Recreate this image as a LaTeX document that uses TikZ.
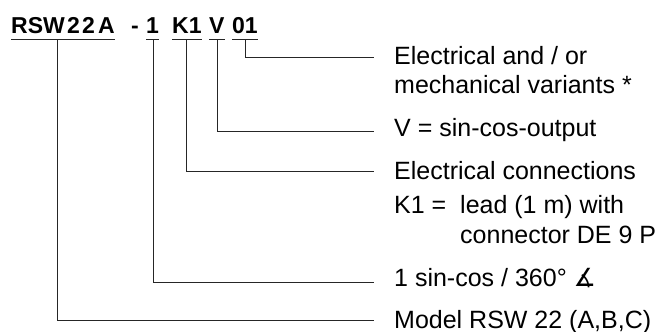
\documentclass[tikz,border=0pt]{standalone}
\usepackage{fontspec}
\setmainfont{Liberation Sans}
\newfontfamily\symfont{DejaVu Sans}
\begin{document}
\begin{tikzpicture}[x=1pt,y=-1pt,
  code/.style={inner sep=0pt,anchor=base west,font=\fontsize{23}{27}\selectfont\bfseries},
  lab/.style={inner sep=0pt,anchor=base west,font=\fontsize{25}{29.5}\selectfont},
  conn/.style={line width=0.9pt,draw=black!85},
  uline/.style={line width=0.9pt,draw=black!85}]
\useasboundingbox (0,0) rectangle (657,332);
% code pieces
\node[code] (trsw) at (11,33) {RSW};
\node[code] (t2a) at (67,33) {2};
\node[code] (t2b) at (82,33) {2};
\node[code] (ta) at (98,33) {A};
\node[code] (tdash) at (131,33) {-};
\node[code] (tone) at (146,33) {1};
\node[code] (tk) at (172,33) {K1};
\node[code] (tv) at (209,33) {V};
\node[code] (tz) at (232,33) {01};
% underlines
\draw[uline] ([yshift=-6pt]trsw.base west) -- ([yshift=-6pt]ta.base east);
\draw[uline] ([yshift=-6pt]tone.base west) -- ([yshift=-6pt]tone.base east);
\draw[uline] ([yshift=-6pt]tk.base west) -- ([yshift=-6pt]tk.base east);
\draw[uline] ([yshift=-6pt]tv.base west) -- ([yshift=-6pt]tv.base east);
\draw[uline] ([yshift=-6pt]tz.base west) -- ([yshift=-6pt]tz.base east);
% label texts
\node[lab] (l1a) at (394,64) {Electrical and / or};
\node[lab] (l1b) at (394,93) {mechanical variants *};
\node[lab] (l2) at (394,136) {V = sin-cos-output};
\node[lab] (l3) at (394,179) {Electrical connections};
\node[lab] (l3k) at (394,213) {K1 =};
\node[lab] (l3b) at (460,213) {lead (1 m) with};
\node[lab] (l3c) at (460,243) {connector DE 9 P};
\node[lab] (l4) at (394,286) {1 sin-cos / 360° {\symfont ∡}};
\node[lab] (l5) at (394,328) {Model RSW 22 (A,B,C)};
% connector start and end points
\coordinate (s1) at (57,39);
\coordinate (s2) at (153,39);
\coordinate (s3) at (186,39);
\coordinate (s4) at (217,39);
\coordinate (s5) at (245,39);
\coordinate (e5) at (374,57);
\coordinate (e4) at (374,131);
\coordinate (e3) at (374,171);
\coordinate (e2) at (374,282);
\coordinate (e1) at (374,320);
\draw[conn] (s5) |- (e5);
\draw[conn] (s4) |- (e4);
\draw[conn] (s3) |- (e3);
\draw[conn] (s2) |- (e2);
\draw[conn] (s1) |- (e1);
\end{tikzpicture}
\end{document}
